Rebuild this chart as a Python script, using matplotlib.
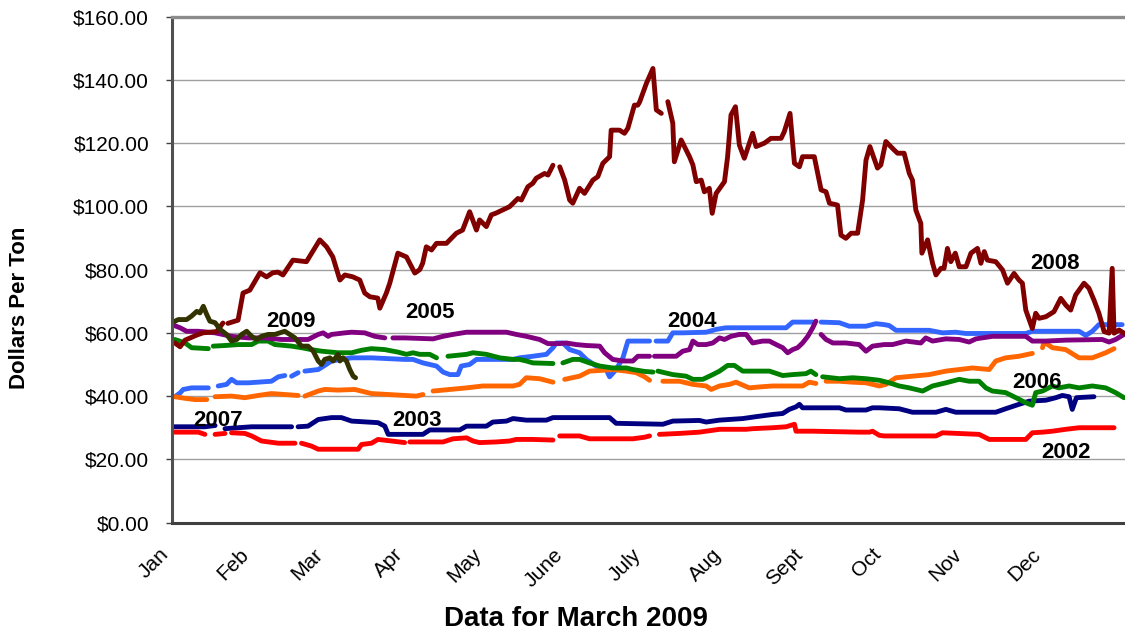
import numpy as np
import matplotlib
matplotlib.use('Agg')
import matplotlib.pyplot as plt
from matplotlib.transforms import ScaledTranslation

nan = np.nan

# ---------------- data ----------------
months = ['Jan', 'Feb', 'Mar', 'Apr', 'May', 'June', 'July', 'Aug', 'Sept', 'Oct', 'Nov', 'Dec']
month_start_days = [0, 31, 59, 90, 120, 151, 181, 212, 243, 273, 304, 334]
y_ticks = [0, 20, 40, 60, 80, 100, 120, 140, 160]

# (day of year, dollars per ton); nan = missing data (gap)
series_2008 = [(1.1, 56.8), (3.1, 55.6), (5.0, 57.7), (9.5, 59.3), (11.9, 60.0), (17.1, 60.4), (19.5, 63.1), (20.5, nan),
               (21.4, 63.0), (25.3, 64.0), (27.2, 72.6), (29.8, 73.5), (33.7, 79.0), (36.2, 77.7), (38.6, 79.0), (40.6, 79.2),
               (42.5, 78.3), (46.3, 83.0), (51.5, 82.5), (56.6, 89.4), (59.2, 87.2), (61.6, 84.0), (64.3, 76.7), (66.2, 78.3),
               (69.3, 77.7), (71.9, 76.7), (73.8, 72.6), (75.8, 71.4), (78.8, 71.0), (79.6, 67.8), (82.1, 72.6), (83.4, 75.7),
               (86.5, 85.2), (89.8, 84.0), (93.0, 78.9), (94.9, 80.0), (96.0, 82.0), (97.4, 87.2), (99.4, 86.2), (101.3, 88.3),
               (105.1, 88.3), (108.9, 91.5), (111.3, 92.5), (114.0, 98.3), (116.6, 92.5), (117.8, 95.7), (120.4, 93.6),
               (122.3, 97.3), (124.2, 97.9), (129.3, 99.9), (132.5, 102.5), (133.8, 102.0), (136.3, 106.2), (138.2, 107.3),
               (139.5, 108.9), (142.7, 110.4), (144.0, 109.9), (145.9, 113.0), (147.2, nan), (148.5, 112.5), (150.4, 108.3),
               (152.3, 102.0), (153.5, 101.0), (156.1, 105.7), (158.0, 104.1), (161.2, 108.3), (163.1, 109.4), (165.0, 113.6),
               (167.6, 115.7), (168.2, 124.1), (171.4, 124.1), (173.3, 123.1), (174.6, 124.7), (177.1, 132.0), (178.4, 132.0),
               (179.1, 133.0), (181.7, 138.9), (184.2, 143.6), (185.5, 130.5), (187.4, 129.4), (188.7, nan), (189.9, 133.1),
               (191.8, 126.3), (192.4, 114.1), (195.0, 121.0), (198.2, 115.7), (199.5, 113.1), (200.8, 107.8), (202.7, 108.3),
               (203.9, 104.6), (205.8, 105.7), (206.9, 97.8), (208.4, 104.1), (211.6, 107.8), (212.8, 115.7), (214.1, 128.9),
               (215.8, 131.5), (217.3, 119.4), (219.2, 115.2), (222.4, 123.1), (223.7, 118.9), (226.9, 120.0), (229.4, 121.5),
               (233.3, 121.5), (234.5, 123.6), (236.7, 129.4), (238.4, 113.6), (240.3, 112.5), (241.5, 115.7), (246.0, 115.7),
               (248.6, 105.2), (250.5, 104.6), (251.8, 101.0), (254.9, 100.4), (256.2, 90.9), (258.1, 89.9), (260.1, 91.5),
               (262.6, 91.5), (264.5, 102.0), (265.8, 114.6), (267.3, 118.9), (270.2, 112.1), (271.5, 113.1), (273.4, 120.5),
               (276.6, 117.8), (277.9, 116.8), (280.4, 116.8), (282.4, 110.4), (283.6, 108.3), (284.9, 98.8), (286.8, 94.6),
               (287.2, 85.2), (289.4, 89.4), (291.3, 82.0), (292.6, 78.3), (294.5, 80.4), (295.7, 80.4), (297.0, 86.7),
               (298.3, 82.5), (300.0, 85.2), (301.5, 80.9), (304.1, 80.9), (306.0, 85.2), (308.5, 86.7), (309.8, 82.0),
               (311.1, 85.7), (312.3, 83.0), (315.5, 82.5), (318.1, 79.9), (320.0, 75.7), (322.5, 78.8), (324.4, 76.7),
               (325.7, 75.7), (327.0, 67.2), (329.5, 61.4), (330.8, 66.2), (332.1, 64.6), (334.7, 65.1), (337.8, 66.7),
               (340.4, 70.9), (342.3, 68.8), (344.2, 67.2), (346.1, 72.0), (349.3, 75.7), (351.2, 74.1), (353.1, 70.4),
               (355.0, 66.2), (357.0, 60.4), (358.9, 59.9), (360.1, 80.4), (360.8, 59.9), (362.7, 60.9), (364.6, 59.9)]

series_2009 = [(0.0, 63.2), (2.4, 64.2), (5.6, 64.2), (7.5, 65.3), (9.5, 66.8), (10.7, 66.3), (12.0, 68.4), (13.3, 65.8),
               (14.5, 63.7), (16.5, 63.2), (18.4, 61.1), (20.9, 59.5), (22.8, 57.4), (24.8, 57.9), (26.7, 59.5), (28.6, 60.5),
               (30.5, 58.9), (32.4, 57.9), (34.3, 58.9), (36.8, 59.5), (39.4, 59.5), (41.3, 60.0), (43.2, 60.5), (45.1, 59.5),
               (47.1, 58.4), (49.6, 55.8), (52.1, 55.8), (54.1, 54.2), (56.0, 51.1), (57.3, 50.0), (58.5, 51.6), (60.5, 52.1),
               (61.7, 51.1), (63.6, 53.2), (64.3, 51.1), (65.5, 52.1), (66.8, 51.1), (68.1, 48.4), (69.4, 46.3), (70.3, 45.8)]

series_2005 = [(0.0, 62.6), (3.1, 61.6), (5.6, 60.5), (10.1, 60.5), (16.5, 60.0), (22.8, 58.9), (29.2, 58.4), (35.6, 58.4),
               (42.0, 57.9), (52.1, 57.9), (56.0, 59.5), (57.9, 60.0), (59.8, 58.9), (61.1, 59.5), (66.2, 60.0), (68.8, 60.2),
               (73.8, 60.0), (77.7, 58.9), (81.5, 58.4), (83.0, nan), (84.6, 58.4), (89.1, 58.4), (100.0, 58.1), (103.8, 58.9),
               (107.6, 59.5), (112.8, 60.2), (128.1, 60.2), (131.9, 59.5), (135.7, 58.9), (140.8, 57.9), (144.0, 56.6),
               (148.5, 56.6), (151.0, 56.8), (154.8, 56.3), (158.7, 56.0), (163.8, 55.8), (165.7, 53.7), (168.8, 51.6),
               (172.7, 51.1), (176.5, 51.1), (178.4, 52.6), (182.9, 52.6), (184.0, nan), (184.8, 52.6), (193.1, 52.6),
               (195.6, 54.2), (198.2, 54.7), (199.5, 57.4), (201.4, 56.3), (204.6, 56.3), (207.1, 56.8), (209.7, 58.4),
               (211.6, 57.9), (214.1, 58.9), (217.3, 59.5), (219.9, 59.5), (222.4, 56.8), (226.2, 57.4), (228.8, 57.4),
               (231.4, 56.3), (233.9, 55.3), (235.8, 53.7), (237.7, 54.7), (239.6, 55.3), (241.5, 56.8), (243.5, 58.9),
               (245.4, 61.6), (246.6, 63.7), (247.6, nan), (248.6, 59.5), (250.5, 57.9), (253.1, 56.8), (258.1, 56.8),
               (263.2, 56.3), (265.8, 54.2), (268.3, 55.8), (272.8, 56.3), (276.0, 56.3), (281.1, 57.4), (286.8, 56.8),
               (288.7, 58.4), (291.3, 57.4), (296.4, 58.1), (301.5, 57.9), (305.3, 57.1), (307.9, 58.1), (314.2, 58.9),
               (327.0, 58.9), (329.5, 57.4), (334.7, 57.4), (342.3, 57.7), (356.3, 57.9), (358.9, 57.1), (361.4, 57.9),
               (364.6, 59.5)]

series_2006 = [(1.1, 57.9), (5.0, 56.8), (7.5, 55.3), (13.9, 55.0), (15.0, nan), (15.8, 55.8), (20.3, 56.0), (25.4, 56.3),
               (30.5, 56.3), (33.0, 57.4), (36.8, 57.4), (39.4, 56.3), (45.8, 55.8), (49.6, 55.3), (53.4, 54.7), (57.3, 54.2),
               (63.6, 53.7), (68.8, 53.7), (72.6, 54.5), (76.4, 55.0), (81.5, 54.7), (86.6, 53.9), (89.8, 53.2), (92.3, 53.7),
               (94.9, 53.2), (98.7, 53.2), (101.3, 52.1), (102.8, nan), (105.7, 52.6), (112.8, 53.2), (115.3, 53.7),
               (120.4, 53.2), (125.5, 52.1), (130.6, 51.6), (133.1, 51.6), (135.7, 51.1), (138.2, 50.5), (145.9, 50.3),
               (147.5, nan), (149.7, 50.5), (153.5, 51.6), (156.1, 51.6), (159.9, 50.5), (163.8, 49.5), (168.8, 48.9),
               (174.0, 48.9), (176.5, 48.4), (181.0, 47.8), (184.2, 47.6), (185.4, nan), (186.1, 47.9), (191.8, 46.8),
               (196.9, 46.3), (199.5, 45.3), (203.3, 45.3), (207.1, 46.8), (209.7, 47.9), (212.8, 49.7), (215.4, 49.7),
               (218.6, 47.9), (228.8, 47.9), (233.9, 46.5), (237.7, 46.8), (242.8, 47.1), (244.7, 47.9), (246.6, 46.8),
               (247.6, nan), (249.2, 46.1), (255.6, 45.5), (260.7, 45.8), (265.8, 45.5), (270.9, 45.0), (274.7, 44.2),
               (278.5, 43.2), (282.4, 42.6), (287.5, 41.6), (291.3, 43.2), (296.4, 44.2), (301.5, 45.3), (305.3, 44.7),
               (309.1, 44.7), (311.7, 42.6), (314.2, 41.6), (319.3, 41.1), (323.2, 39.5), (327.0, 37.9), (329.5, 37.1),
               (330.8, 41.1), (333.4, 41.6), (337.2, 43.2), (339.7, 42.6), (343.6, 43.2), (347.4, 42.6), (352.5, 43.2),
               (357.6, 42.6), (361.4, 41.1), (364.6, 39.5)]

series_2004 = [(1.1, 39.8), (3.1, 41.0), (4.3, 42.1), (7.5, 42.6), (13.9, 42.6), (15.2, nan), (17.7, 43.2), (20.9, 43.7),
               (22.8, 45.3), (24.8, 44.2), (29.2, 44.2), (38.1, 44.7), (40.7, 46.1), (43.2, 46.5), (44.5, nan), (45.8, 46.3),
               (48.3, 47.4), (49.3, nan), (50.9, 47.9), (56.0, 48.4), (58.5, 49.7), (61.1, 51.1), (64.9, 51.6), (68.8, 52.1),
               (76.4, 52.1), (89.1, 51.6), (92.3, 51.6), (96.1, 50.5), (101.3, 49.5), (103.8, 47.6), (106.4, 46.8),
               (109.5, 46.8), (110.8, 49.5), (114.0, 50.0), (116.6, 51.6), (130.6, 51.6), (133.1, 52.1), (138.2, 52.6),
               (143.4, 53.2), (145.9, 55.3), (147.2, 56.8), (149.7, 56.8), (152.3, 54.7), (156.1, 53.7), (158.7, 51.6),
               (162.5, 49.5), (166.3, 48.4), (167.6, 46.1), (170.1, 48.4), (172.7, 52.1), (174.6, 57.4), (182.9, 57.4),
               (184.0, nan), (185.4, 57.4), (189.9, 57.4), (191.8, 60.0), (195.6, 60.0), (204.6, 60.2), (208.4, 61.1),
               (212.2, 61.6), (235.2, 61.6), (237.7, 63.4), (245.4, 63.4), (246.6, nan), (248.6, 63.4), (255.6, 63.2),
               (259.4, 62.1), (265.8, 62.1), (269.6, 62.9), (272.8, 62.6), (274.7, 62.3), (277.3, 60.8), (290.0, 60.8),
               (295.1, 60.0), (300.2, 60.2), (304.0, 59.8), (327.0, 59.8), (329.5, 60.5), (347.4, 60.5), (350.0, 59.2),
               (352.5, 60.5), (355.0, 62.6), (363.9, 62.6)]

series_2007 = [(1.1, 39.8), (5.0, 39.3), (8.8, 38.9), (13.3, 38.9), (14.5, nan), (16.5, 39.8), (22.8, 40.0), (27.9, 39.5),
               (33.0, 40.2), (38.1, 40.8), (43.2, 40.5), (48.3, 40.2), (49.3, nan), (50.9, 40.0), (56.0, 41.6), (58.5, 42.1),
               (63.6, 41.9), (70.0, 42.1), (76.4, 40.8), (93.6, 40.0), (96.1, 40.5), (97.5, nan), (100.0, 41.6),
               (106.4, 42.1), (112.8, 42.6), (119.1, 43.2), (130.6, 43.2), (133.1, 43.7), (135.7, 45.8), (140.8, 45.5),
               (145.9, 44.4), (147.5, nan), (150.4, 45.3), (156.1, 46.3), (159.9, 47.9), (163.8, 48.1), (168.8, 48.4),
               (174.0, 47.9), (177.8, 47.4), (181.0, 46.1), (182.9, 45.0), (184.9, nan), (188.0, 44.7), (194.4, 44.7),
               (199.5, 43.7), (204.6, 43.2), (206.5, 42.1), (209.7, 43.2), (213.5, 43.7), (216.0, 44.4), (221.1, 42.6),
               (225.0, 42.9), (230.1, 43.2), (241.5, 43.2), (244.1, 44.4), (246.6, 44.0), (247.6, nan), (250.5, 44.7),
               (255.6, 44.7), (260.7, 44.4), (265.8, 44.2), (270.9, 43.2), (273.4, 43.7), (277.3, 45.8), (283.6, 46.3),
               (290.0, 46.8), (296.4, 47.9), (301.5, 48.4), (306.6, 48.9), (313.0, 48.4), (315.5, 51.1), (319.3, 52.1),
               (324.4, 52.6), (329.5, 53.5), (330.8, nan), (333.4, 55.3), (334.0, 57.1), (337.2, 55.3), (342.3, 54.7),
               (347.4, 52.1), (352.5, 52.1), (357.6, 53.7), (360.8, 55.0)]

series_2003 = [(0.0, 30.3), (12.6, 30.3), (16.5, 30.7), (18.0, nan), (20.3, 29.7), (30.5, 30.3), (45.8, 30.3), (46.8, nan),
               (48.3, 30.3), (52.1, 30.5), (56.0, 32.6), (61.1, 33.2), (64.9, 33.2), (68.8, 32.1), (78.9, 31.6), (81.5, 30.5),
               (82.8, 27.9), (96.1, 27.9), (98.7, 29.3), (110.2, 29.3), (112.8, 30.5), (120.4, 30.5), (122.9, 31.8),
               (128.1, 32.1), (130.6, 32.9), (135.7, 32.4), (143.4, 32.4), (145.9, 33.2), (167.6, 33.2), (170.1, 31.4),
               (188.0, 31.1), (191.8, 32.1), (202.0, 32.3), (204.6, 31.8), (209.7, 32.4), (218.6, 32.9), (223.7, 33.5),
               (230.1, 34.2), (233.9, 34.5), (236.4, 35.8), (239.0, 36.6), (240.3, 37.4), (241.5, 36.3), (255.6, 36.3),
               (258.1, 35.6), (265.8, 35.6), (268.3, 36.3), (270.9, 36.3), (278.5, 36.0), (283.6, 34.9), (292.6, 34.9),
               (296.4, 35.8), (300.2, 34.9), (315.5, 34.9), (319.3, 36.0), (324.4, 37.4), (328.3, 38.4), (334.7, 38.7),
               (338.5, 39.5), (341.0, 40.2), (343.6, 39.8), (344.8, 35.8), (346.4, 39.5), (353.1, 39.8)]

series_2002 = [(1.1, 28.6), (10.1, 28.6), (12.6, 27.9), (13.8, nan), (16.5, 27.9), (20.3, 28.2), (21.3, nan), (22.8, 28.4),
               (27.9, 28.2), (30.5, 27.4), (34.3, 25.8), (40.7, 25.1), (47.1, 25.1), (48.5, nan), (49.6, 25.1), (53.4, 24.2),
               (56.0, 23.2), (71.3, 23.2), (72.6, 24.7), (76.4, 25.1), (78.9, 26.3), (84.1, 25.8), (89.1, 25.3), (90.2, nan),
               (91.1, 25.5), (103.8, 25.5), (107.6, 26.5), (112.8, 26.8), (115.3, 25.8), (117.8, 25.3), (124.2, 25.5),
               (129.3, 25.8), (131.9, 26.3), (138.2, 26.3), (145.9, 26.1), (147.0, nan), (148.5, 27.4), (156.1, 27.4),
               (159.9, 26.5), (176.5, 26.5), (181.0, 27.0), (182.9, 27.4), (184.0, nan), (186.7, 27.9), (194.4, 28.2),
               (202.0, 28.6), (209.7, 29.5), (219.9, 29.5), (222.4, 29.7), (230.1, 30.0), (235.2, 30.3), (238.4, 31.1),
               (239.0, 28.9), (245.4, 28.9), (263.2, 28.6), (267.1, 28.6), (268.3, 28.9), (270.9, 27.6), (272.8, 27.4),
               (292.6, 27.4), (295.1, 28.4), (309.1, 27.9), (313.0, 26.3), (327.0, 26.3), (329.5, 28.4), (333.4, 28.6),
               (337.2, 28.9), (342.3, 29.5), (347.4, 30.0), (360.8, 30.0)]

# drawing order (later on top) and colours
plot_order = ['2003', '2002', '2004', '2007', '2006', '2005', '2008', '2009']
all_series = {'2002': series_2002, '2003': series_2003, '2004': series_2004, '2005': series_2005,
              '2006': series_2006, '2007': series_2007, '2008': series_2008, '2009': series_2009}
series_colors = {'2002': '#FF0000', '2003': '#000080', '2004': '#3366FF', '2005': '#800080',
                 '2006': '#008000', '2007': '#FF6600', '2008': '#800000', '2009': '#333300'}

year_labels = ['2009', '2005', '2004', '2008', '2007', '2003', '2006', '2002']
label_days = [45.5, 98.7, 199.3, 338.2, 17.6, 93.7, 331.3, 342.4]
label_prices = [63.6, 66.3, 63.6, 81.9, 32.4, 32.4, 44.3, 22.1]

# ---------------- figure ----------------
plt.rcParams['font.family'] = ['Liberation Sans', 'DejaVu Sans']

fig = plt.figure(figsize=(11.25, 6.31), dpi=100)
ax = fig.add_axes([172 / 1125, 1 - 522.6 / 631, 1 - 172 / 1125, (522.6 - 16.6) / 631])

for yr in plot_order:
    pts = all_series[yr]
    d = [p[0] for p in pts]
    v = [p[1] for p in pts]
    ax.plot(d, v, color=series_colors[yr], lw=3.5, solid_capstyle='round',
            solid_joinstyle='round', clip_on=True)

for txt, dx, py in zip(year_labels, label_days, label_prices):
    ax.text(dx, py, txt, ha='center', va='center', fontsize=16, fontweight='bold', color='black')

ax.set_xlim(0, 365)
ax.set_ylim(0, 160)
ax.set_yticks(y_ticks)
ax.set_yticklabels(['${:.2f}'.format(t) for t in y_ticks], fontsize=15)
ax.set_xticks(month_start_days)
ax.set_xticklabels(months, rotation=45, ha='right', va='top', fontsize=15)
offset = ScaledTranslation(-13 / 100, 0, fig.dpi_scale_trans)
for lab in ax.get_xticklabels():
    lab.set_transform(lab.get_transform() + offset)
ax.tick_params(axis='x', length=0, pad=16)
ax.tick_params(axis='y', length=4.5, width=1, color='#404040', pad=12)

ax.grid(axis='y', color='#a0a0a0', lw=1.0)
ax.set_axisbelow(True)
ax.spines['right'].set_visible(False)
ax.spines['top'].set_color('#8c8c8c')
ax.spines['top'].set_linewidth(2.4)
ax.spines['left'].set_color('#505050')
ax.spines['left'].set_linewidth(2.2)
ax.spines['bottom'].set_color('#404040')
ax.spines['bottom'].set_linewidth(2.2)

fig.text(20 / 1125, 1 - 307.5 / 631, 'Dollars Per Ton', rotation=90, ha='center', va='center',
         fontsize=16, fontweight='bold')
fig.text(576 / 1125, 1 - 619 / 631, 'Data for March 2009', ha='center', va='center',
         fontsize=20, fontweight='bold')

fig.savefig('out.png', dpi=100)
